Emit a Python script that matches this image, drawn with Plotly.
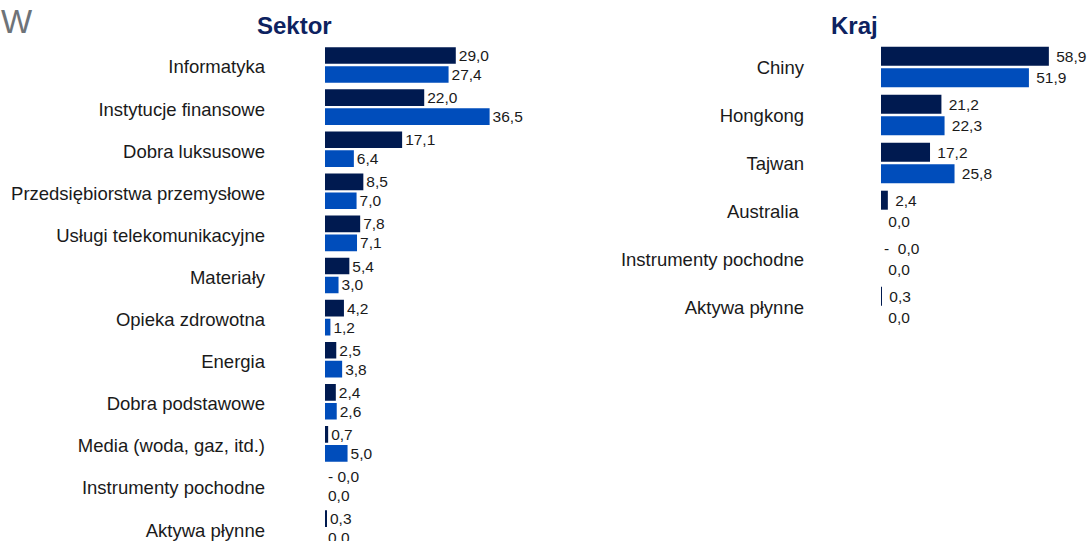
import plotly.graph_objects as go

# ---- data ----
sector_labels = ["Informatyka", "Instytucje finansowe", "Dobra luksusowe",
                 "Przedsiębiorstwa przemysłowe", "Usługi telekomunikacyjne", "Materiały",
                 "Opieka zdrowotna", "Energia", "Dobra podstawowe",
                 "Media (woda, gaz, itd.)", "Instrumenty pochodne", "Aktywa płynne"]
sector_fund = [29.0, 22.0, 17.1, 8.5, 7.8, 5.4, 4.2, 2.5, 2.4, 0.7, -0.0, 0.3]
sector_index = [27.4, 36.5, 6.4, 7.0, 7.1, 3.0, 1.2, 3.8, 2.6, 5.0, 0.0, 0.0]

country_labels = ["Chiny", "Hongkong", "Tajwan", "Australia\u00a0",
                  "Instrumenty pochodne", "Aktywa płynne"]
country_fund = [58.9, 21.2, 17.2, 2.4, -0.0, 0.3]
country_index = [51.9, 22.3, 25.8, 0.0, 0.0, 0.0]

DARK = "#001A50"
BLUE = "#004DBB"
FONT = "Liberation Sans, Arial, sans-serif"
W, H = 1088, 541


def fmt(v, neg_gap=" ", prefix=""):
    s = f"{abs(v):.1f}".replace(".", ",")
    if str(v).startswith("-"):
        return "-" + neg_gap + s
    return prefix + s


fig = go.Figure()


def add_pair(labels, fund, index, xa, ya, neg_gap, prefix):
    for vals, col in ((fund, DARK), (index, BLUE)):
        fig.add_trace(go.Bar(
            y=labels, x=[abs(v) if v == 0 else v for v in vals], orientation="h",
            marker=dict(color=col, line=dict(width=0)),
            text=[fmt(v, neg_gap, prefix) for v in vals], textposition="outside",
            textfont=dict(family=FONT, size=15.5, color="#1a1a1a"),
            constraintext="none", cliponaxis=False,
            xaxis=xa, yaxis=ya, showlegend=False, hoverinfo="skip"))


add_pair(sector_labels, sector_fund, sector_index, "x", "y", " ", "")
add_pair(country_labels, country_fund, country_index, "x2", "y2",
         "\u00a0\u00a0", "\u00a0")

# left panel geometry
l_x0 = 325 / W
l_scale = 4.51
l_range = 40
l_x1 = (325 + l_range * l_scale) / W
l_top = 43.95
l_step = 42.1
l_bottom_idx = -0.5 + (H - l_top) / l_step

# right panel geometry
r_x0 = 881 / W
r_scale = 2.85
r_range = (W - 881) / r_scale
r_top = 43
r_step = 48

axis_hidden = dict(showgrid=False, zeroline=False, showticklabels=False,
                   showline=False, ticks="")

fig.update_layout(
    width=W, height=H, margin=dict(l=0, r=0, t=0, b=0),
    paper_bgcolor="white", plot_bgcolor="white",
    barmode="group", bargap=0.1, bargroupgap=0.12,
    font=dict(family=FONT, color="#1a1a1a"),
    xaxis=dict(domain=[l_x0, l_x1], range=[0, l_range], anchor="y", **axis_hidden),
    yaxis=dict(domain=[0, 1 - l_top / H], range=[l_bottom_idx, -0.5], anchor="x",
               type="category", showgrid=False, zeroline=False, showline=False,
               ticks="", ticklabelstandoff=59, ticklabelshift=-2,
               tickfont=dict(family=FONT, size=18.5, color="#1a1a1a")),
    xaxis2=dict(domain=[r_x0, 1.0], range=[0, r_range], anchor="y2", **axis_hidden),
    yaxis2=dict(domain=[1 - (r_top + 6 * r_step) / H, 1 - r_top / H], range=[5.5, -0.5],
                anchor="x2", type="category", showgrid=False, zeroline=False,
                showline=False, ticks="", ticklabelstandoff=76, ticklabelshift=-1,
                tickfont=dict(family=FONT, size=18.5, color="#1a1a1a")),
    annotations=[
        dict(text="<b>Sektor</b>", x=294.7 / W, y=1 - 26 / H, xref="paper", yref="paper",
             xanchor="center", yanchor="middle", showarrow=False,
             font=dict(family=FONT, size=24, color="#0D2260")),
        dict(text="<b>Kraj</b>", x=854 / W, y=1 - 26 / H, xref="paper", yref="paper",
             xanchor="center", yanchor="middle", showarrow=False,
             font=dict(family=FONT, size=24, color="#0D2260")),
        dict(text="W", x=-1 / W, y=1 - 21 / H, xref="paper", yref="paper",
             xanchor="left", yanchor="middle", showarrow=False,
             font=dict(family=FONT, size=33, color="#6E7378")),
    ],
)

fig.write_html("out.html", config={"displayModeBar": False},
               post_script="document.body.style.margin='0';")
